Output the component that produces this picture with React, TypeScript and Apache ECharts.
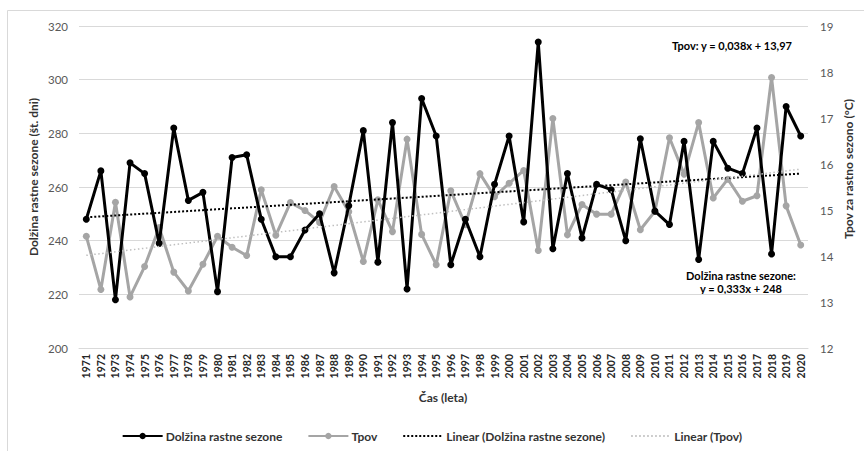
import React, { useEffect, useRef } from "react";
import * as echarts from "echarts";

const years: string[] = [];
for (let y = 1971; y <= 2020; y++) years.push(String(y));

const seasonLength = [
  248, 266, 218, 269, 265, 239, 282, 255, 258, 221,
  271, 272, 248, 234, 234, 244, 250, 228, 253, 281,
  232, 284, 222, 293, 279, 231, 248, 234, 261, 279,
  247, 314, 237, 265, 241, 261, 259, 240, 278, 251,
  246, 277, 233, 277, 267, 265, 282, 235, 290, 279,
];

const tpov = [
  14.43, 13.27, 15.17, 13.11, 13.77, 14.62, 13.65, 13.24, 13.82, 14.43,
  14.19, 14.01, 15.44, 14.45, 15.16, 14.99, 14.73, 15.51, 14.96, 13.88,
  15.22, 14.53, 16.54, 14.47, 13.81, 15.42, 14.68, 15.79, 15.29, 15.58,
  15.86, 14.12, 16.99, 14.46, 15.12, 14.91, 14.91, 15.61, 14.57, 14.97,
  16.57, 15.78, 16.9, 15.26, 15.67, 15.19, 15.31, 17.88, 15.09, 14.24,
];

const leftTicks = { min: 200, max: 320, interval: 20 };
const rightTicks = { min: 12, max: 19, interval: 1 };

const seriesNames = [
  "Dolžina rastne sezone",
  "Tpov",
  "Linear (Dolžina rastne sezone)",
  "Linear (Tpov)",
];

const equationTpov = "Tpov: y = 0,038x + 13,97";
const equationLengthTitle = "Dolžina rastne sezone:";
const equationLength = "y = 0,333x + 248";

function linearFit(values: number[]): number[] {
  const n = values.length;
  let sx = 0, sy = 0, sxx = 0, sxy = 0;
  values.forEach((v, i) => {
    const x = i + 1;
    sx += x; sy += v; sxx += x * x; sxy += x * v;
  });
  const b = (n * sxy - sx * sy) / (n * sxx - sx * sx);
  const a = (sy - b * sx) / n;
  return values.map((_, i) => +(a + b * (i + 1)).toFixed(3));
}

const FONT = "Lato, 'Open Sans', sans-serif";

export default function App() {
  const ref = useRef<HTMLDivElement>(null);
  useEffect(() => {
    if (!ref.current) return;
    const chart = echarts.init(ref.current, null, { renderer: "svg" });
    const labelColor = "#595959";
    const titleColor = "#333333";
    chart.setOption({
      animation: false,
      backgroundColor: "#ffffff",
      textStyle: { fontFamily: FONT },
      grid: { left: 79, right: 56, top: 26, bottom: 103, containLabel: false },
      xAxis: {
        type: "category",
        data: years,
        boundaryGap: true,
        axisTick: { show: false },
        axisLine: { show: true, lineStyle: { color: "#d9d9d9", width: 1 } },
        axisLabel: {
          rotate: 90,
          interval: 0,
          margin: 6,
          fontSize: 10.5,
          fontWeight: "bold",
          color: "#262626",
          fontFamily: FONT,
        },
      },
      yAxis: [
        {
          type: "value",
          min: leftTicks.min,
          max: leftTicks.max,
          interval: leftTicks.interval,
          axisLine: { show: false },
          axisTick: { show: false },
          splitLine: { show: true, lineStyle: { color: "#d9d9d9", width: 1 } },
          axisLabel: { margin: 11, fontSize: 11.5, color: labelColor, fontFamily: FONT },
        },
        {
          type: "value",
          min: rightTicks.min,
          max: rightTicks.max,
          interval: rightTicks.interval,
          axisLine: { show: false },
          axisTick: { show: false },
          splitLine: { show: false },
          axisLabel: { margin: 12, fontSize: 11.5, color: labelColor, fontFamily: FONT },
        },
      ],
      legend: {
        top: 425,
        left: "center",
        itemWidth: 40,
        itemHeight: 8,
        itemGap: 25,
        textStyle: { fontSize: 12, fontWeight: "bold", color: titleColor, fontFamily: FONT, padding: [0, 0, 0, -2] },
        data: [
          { name: seriesNames[0] },
          { name: seriesNames[1] },
          { name: seriesNames[2], itemStyle: { opacity: 0 } },
          { name: seriesNames[3], itemStyle: { opacity: 0 } },
        ],
      },
      series: [
        {
          name: seriesNames[1],
          type: "line",
          yAxisIndex: 1,
          data: tpov,
          symbol: "circle",
          symbolSize: 7,
          lineStyle: { color: "#a5a5a5", width: 3 },
          itemStyle: { color: "#a5a5a5" },
          z: 3,
        },
        {
          name: seriesNames[0],
          type: "line",
          yAxisIndex: 0,
          data: seasonLength,
          symbol: "circle",
          symbolSize: 7,
          lineStyle: { color: "#000000", width: 3 },
          itemStyle: { color: "#000000" },
          z: 4,
        },
        {
          name: seriesNames[2],
          type: "line",
          yAxisIndex: 0,
          data: linearFit(seasonLength),
          symbol: "none",
          lineStyle: { color: "#000000", width: 2, type: [2, 2] },
          itemStyle: { color: "#000000" },
          z: 5,
        },
        {
          name: seriesNames[3],
          type: "line",
          yAxisIndex: 1,
          data: linearFit(tpov),
          symbol: "none",
          lineStyle: { color: "#bfbfbf", width: 1.5, type: [1.5, 2.5] },
          itemStyle: { color: "#bfbfbf" },
          z: 5,
        },
      ],
      graphic: [
        {
          type: "rect",
          shape: { x: 7.5, y: 10.5, width: 870, height: 460 },
          style: { fill: "none", stroke: "#d9d9d9", lineWidth: 1 },
          silent: true,
        },
        {
          type: "text",
          x: 33,
          y: 177,
          rotation: Math.PI / 2,
          style: {
            text: "Dolžina rastne sezone (št. dni)",
            fontSize: 12,
            fontWeight: "bold",
            fill: titleColor,
            fontFamily: FONT,
            align: "center",
            verticalAlign: "middle",
          },
        },
        {
          type: "text",
          x: 848,
          y: 169,
          rotation: Math.PI / 2,
          style: {
            text: "Tpov za rastno sezono (°C)",
            fontSize: 12,
            fontWeight: "bold",
            fill: titleColor,
            fontFamily: FONT,
            align: "center",
            verticalAlign: "middle",
          },
        },
        {
          type: "text",
          x: 443,
          y: 397,
          style: {
            text: "Čas (leta)",
            fontSize: 12,
            fontWeight: "bold",
            fill: titleColor,
            fontFamily: FONT,
            align: "center",
            verticalAlign: "middle",
          },
        },
        {
          type: "text",
          x: 732,
          y: 45,
          style: {
            text: equationTpov,
            fontSize: 11,
            fontWeight: "bold",
            fill: "#000000",
            fontFamily: FONT,
            align: "center",
            verticalAlign: "middle",
          },
        },
        {
          type: "text",
          x: 741,
          y: 275,
          style: {
            text: equationLengthTitle,
            fontSize: 11,
            fontWeight: "bold",
            fill: "#000000",
            fontFamily: FONT,
            align: "center",
            verticalAlign: "middle",
          },
        },
        {
          type: "text",
          x: 741,
          y: 288.5,
          style: {
            text: equationLength,
            fontSize: 11,
            fontWeight: "bold",
            fill: "#000000",
            fontFamily: FONT,
            align: "center",
            verticalAlign: "middle",
          },
        },
      ],
    });
    return () => chart.dispose();
  }, []);
  return (
    <div
      ref={ref}
      style={{ position: "fixed", left: 0, top: 0, width: 864, height: 451 }}
    />
  );
}
